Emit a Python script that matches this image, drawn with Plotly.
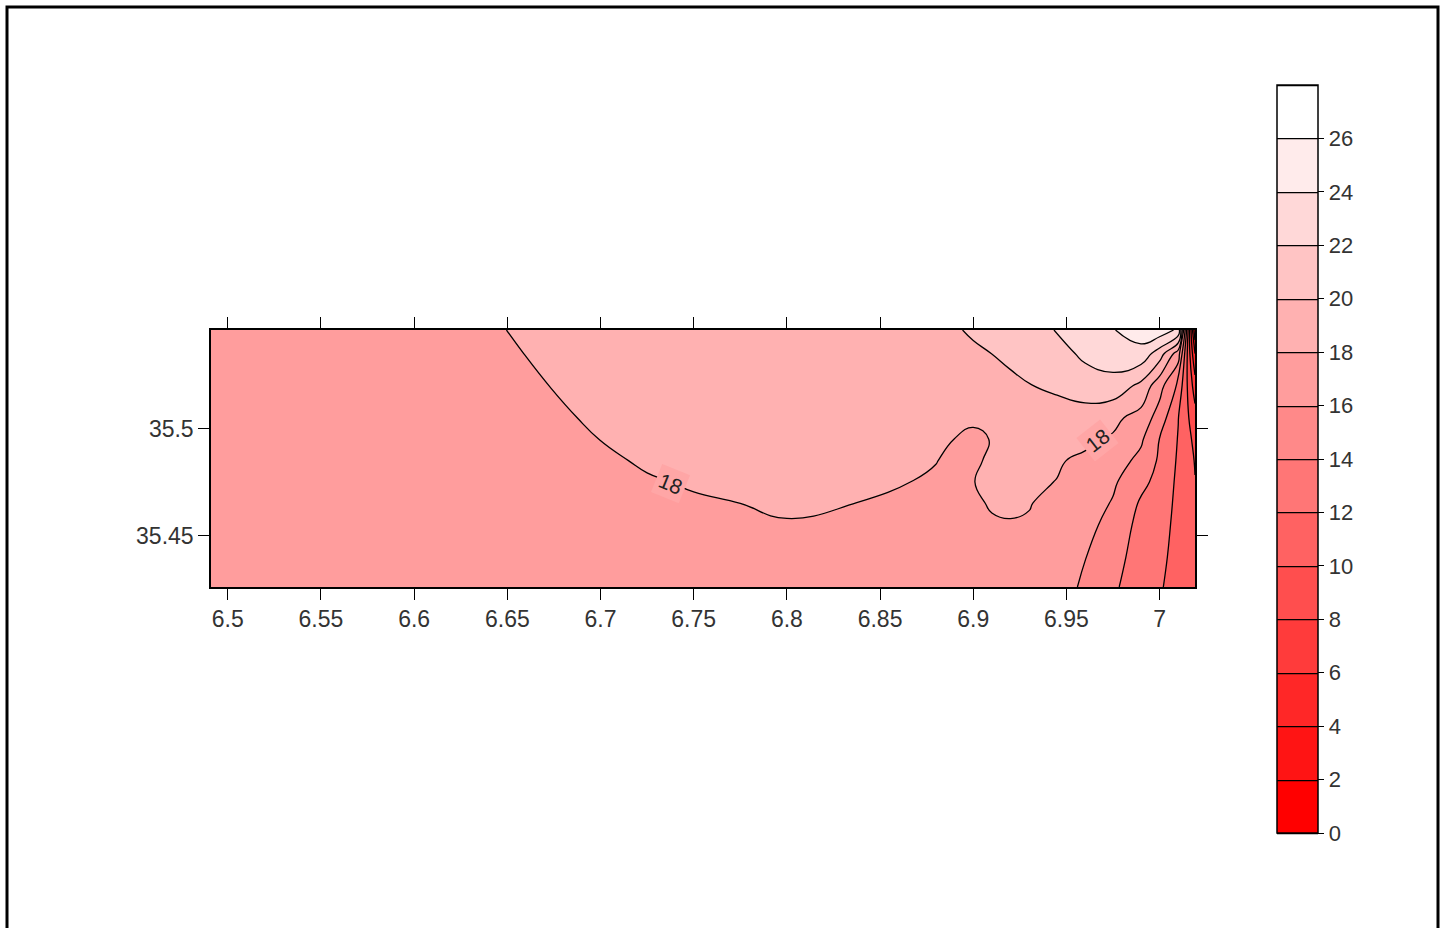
import numpy as np
import plotly.graph_objects as go

# ---- grid coordinates (longitude, latitude) ----
x_nodes = [6.491, 6.57, 6.64, 6.675, 6.70, 6.725, 6.75, 6.80, 6.84, 6.87, 6.88, 6.89, 6.90,
           6.91, 6.92, 6.93, 6.945, 6.96, 6.975, 6.99, 7.00, 7.01, 7.019]
y_nodes = [35.426, 35.44, 35.455, 35.465, 35.475, 35.485, 35.495, 35.505,
           35.52, 35.535, 35.546]

# ---- estimated values, one vertical profile per x node (bottom -> top) ----
z_x6491 = [17.1, 17.1, 17.15, 17.15, 17.2, 17.2, 17.25, 17.3, 17.35, 17.4, 17.45]
z_x657 = [17.2, 17.2, 17.25, 17.3, 17.3, 17.35, 17.4, 17.45, 17.55, 17.65, 17.7]
z_x664 = [17.25, 17.3, 17.3, 17.35, 17.4, 17.42, 17.45, 17.54, 17.57, 17.71, 17.85]
z_x6675 = [17.28, 17.35, 17.4, 17.45, 17.55, 17.62, 17.7, 17.8, 18.04, 18.25, 18.4]
z_x670 = [17.3, 17.4, 17.5, 17.6, 17.7, 17.88, 18.01, 18.2, 18.38, 18.6, 18.77]
z_x6725 = [17.38, 17.5, 17.65, 17.8, 17.94, 18.08, 18.2, 18.3, 18.5, 18.72, 18.88]
z_x675 = [17.45, 17.6, 17.8, 17.93, 18.06, 18.2, 18.33, 18.45, 18.65, 18.85, 19.0]
z_x680 = [17.6, 17.8, 17.97, 18.07, 18.2, 18.35, 18.5, 18.65, 18.85, 19.05, 19.2]
z_x684 = [17.55, 17.72, 17.88, 17.99, 18.12, 18.28, 18.45, 18.65, 18.95, 19.3, 19.5]
z_x687 = [17.5, 17.65, 17.78, 17.88, 17.98, 18.12, 18.3, 18.55, 19.0, 19.5, 19.75]
z_x688 = [17.45, 17.6, 17.72, 17.8, 17.9, 18.02, 18.2, 18.5, 19.05, 19.55, 19.8]
z_x689 = [17.45, 17.55, 17.65, 17.72, 17.78, 17.85, 17.99, 18.35, 19.05, 19.6, 19.85]
z_x690 = [17.5, 17.6, 17.75, 17.85, 17.98, 17.9, 17.9, 18.08, 19.1, 19.75, 20.2]
z_x691 = [17.7, 17.8, 17.9, 18.08, 18.2, 18.1, 18.02, 18.3, 19.15, 20.01, 20.5]
z_x692 = [17.6, 17.75, 17.95, 18.12, 18.3, 18.35, 18.45, 18.7, 19.7, 20.3, 20.9]
z_x693 = [17.55, 17.7, 17.9, 18.05, 18.2, 18.35, 18.55, 18.9, 19.95, 20.7, 21.6]
z_x6945 = [16.8, 17.1, 17.4, 17.65, 17.97, 18.12, 18.6, 19.4, 20.25, 21.1, 22.05]
z_x696 = [15.7, 16.05, 16.55, 16.95, 17.35, 17.75, 18.3, 19.3, 20.8, 22.5, 23.5]
z_x6975 = [14.4, 14.9, 15.4, 15.85, 16.3, 16.9, 17.8, 18.45, 21.23, 23.09, 23.9]
z_x699 = [12.6, 12.95, 13.35, 13.75, 14.5, 15.5, 16.3, 17.3, 19.5, 23.3, 25.0]
z_x700 = [12.2, 12.5, 12.85, 13.1, 13.4, 13.7, 13.95, 15.1, 16.75, 21.0, 25.2]
z_x701 = [11.2, 11.3, 11.4, 11.5, 11.6, 11.75, 11.9, 12.05, 13.5, 17.0, 23.6]
z_x7019 = [10.6, 10.4, 10.25, 10.15, 10.05, 9.9, 9.5, 8.8, 7.0, 4.0, 0.5]

profiles = [z_x6491, z_x657, z_x664, z_x6675, z_x670, z_x6725, z_x675, z_x680, z_x684,
            z_x687, z_x688, z_x689, z_x690, z_x691, z_x692, z_x693, z_x6945, z_x696,
            z_x6975, z_x699, z_x700, z_x701, z_x7019]
z_grid = np.array(profiles).T.tolist()

# ---- levels / tick labels ----
level_start, level_end, level_step = 0, 28, 2
cbar_ticks = list(range(0, 27, 2))
x_ticks = [6.5, 6.55, 6.6, 6.65, 6.7, 6.75, 6.8, 6.85, 6.9, 6.95, 7.0]
x_ticktext = ["6.5", "6.55", "6.6", "6.65", "6.7", "6.75", "6.8", "6.85", "6.9", "6.95", "7"]
y_ticks = [35.45, 35.5]
y_ticktext = ["35.45", "35.5"]

# contour labels of the 18 isoline (position on the line, text, rotation)
label_text = ["18", "18"]
label_x = [6.7374, 6.9667]
label_y = [35.4743, 35.4944]
label_angle = [22, -38]

# ---- colours ----
n_bands = 14
band_cols = []
for k in range(n_bands):
    g = round(255 * k / (n_bands - 1))
    band_cols.append(f"rgb(255,{g},{g})")
stepped_scale = []
for k, c in enumerate(band_cols):
    stepped_scale.append([k / n_bands, c])
    stepped_scale.append([(k + 1) / n_bands, c])
fill_scale = [[0, "rgb(255,0,0)"], [1 / 15, "rgb(255,0,0)"],
              [14 / 15, "rgb(255,255,255)"], [1, "rgb(255,255,255)"]]
label_bg = "rgb(255,166,166)"

FONT = "Liberation Sans, Arial, sans-serif"
LINE_W = 1.3
SMOOTH = 1.3

fig = go.Figure()

# filled bands with black isolines
fig.add_trace(go.Contour(
    x=x_nodes, y=y_nodes, z=z_grid, autocontour=False,
    contours=dict(start=level_start, end=level_end, size=level_step,
                  coloring="fill", showlines=True),
    colorscale=fill_scale, showscale=False,
    line=dict(color="black", width=LINE_W, smoothing=SMOOTH),
    hoverinfo="skip"))

# colour legend (off-map helper trace that only provides the colour bar)
fig.add_trace(go.Contour(
    x=[8.0, 8.1], y=[36.0, 36.1], z=[[0, 28], [0, 28]], autocontour=False,
    contours=dict(start=level_start, end=level_end, size=level_step,
                  coloring="heatmap", showlines=True),
    zauto=False, zmin=0, zmax=28, colorscale=stepped_scale,
    line=dict(color="black", width=LINE_W), hoverinfo="skip", showscale=True,
    colorbar=dict(x=(1277 - 211) / 984, xanchor="left", xpad=0,
                  y=(587 - 459) / 257, yanchor="middle", ypad=0,
                  len=748, lenmode="pixels", thickness=41, thicknessmode="pixels",
                  outlinecolor="black", outlinewidth=1.5,
                  tickmode="array", tickvals=cbar_ticks, ticktext=[str(v) for v in cbar_ticks],
                  ticks="outside", ticklen=6, tickwidth=1.3, tickcolor="black",
                  tickfont=dict(size=22, color="#333", family=FONT))))

for t, lx, ly, ang in zip(label_text, label_x, label_y, label_angle):
    fig.add_annotation(x=lx, y=ly, xref="x", yref="y", text=t, showarrow=False,
                       textangle=ang, bgcolor=label_bg, borderpad=3,
                       font=dict(size=21, color="#222", family=FONT))

axis_common = dict(showline=True, linecolor="black", linewidth=1.5, mirror="ticks",
                   ticks="outside", ticklen=11, tickwidth=1.3, tickcolor="black",
                   showgrid=False, zeroline=False,
                   tickfont=dict(size=23, color="#333", family=FONT))
fig.update_xaxes(range=[6.491, 7.019], tickvals=x_ticks, ticktext=x_ticktext, **axis_common)
fig.update_yaxes(range=[35.426, 35.546], tickvals=y_ticks, ticktext=y_ticktext, **axis_common)

# outer frame of the picture
fig.add_shape(type="rect", xref="paper", yref="paper",
              x0=(7 - 211) / 984, x1=(1438 - 211) / 984,
              y0=(587 - 940) / 257, y1=(587 - 7) / 257,
              line=dict(color="black", width=3), fillcolor="rgba(0,0,0,0)")

fig.update_layout(width=1447, height=928,
                  margin=dict(l=211, r=252, t=330, b=341, pad=0),
                  paper_bgcolor="white", plot_bgcolor="white",
                  showlegend=False, font=dict(family=FONT, color="#333"))

fig.write_html("out.html", config={"displayModeBar": False},
               post_script="document.body.style.margin='0px';")
